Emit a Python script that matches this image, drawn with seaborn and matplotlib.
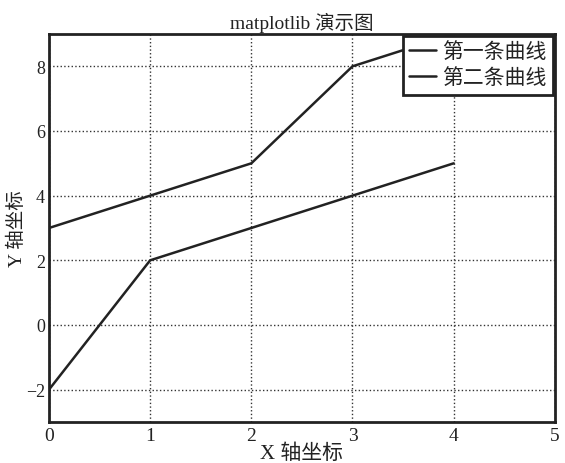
import numpy as np
import pandas as pd
import matplotlib
matplotlib.use("Agg")
import matplotlib.pyplot as plt
import seaborn as sns

# -------- Data --------
x_vals = [0, 1, 2, 3, 4]
line1 = [3, 4, 5, 8, 9]
line2 = [-2, 2, 3, 4, 5]
labels = ["第一条曲线", "第二条曲线"]

df = pd.DataFrame({
    "x": x_vals * 2,
    "y": line1 + line2,
    "curve": [labels[0]] * 5 + [labels[1]] * 5,
})

# -------- Style --------
sns.set_style("white")
plt.rcParams["font.family"] = ["Liberation Serif", "Noto Sans CJK SC", "DejaVu Sans"]
plt.rcParams["axes.unicode_minus"] = True

fig = plt.figure(figsize=(5.65, 4.64), dpi=100)
ax = fig.add_axes([0.0867, 0.0884, 0.8953, 0.8362])

sns.lineplot(data=df, x="x", y="y", hue="curve", palette=["#222222", "#222222"],
             linewidth=1.8, ax=ax, legend=True)

ax.set_xlim(0, 5)
ax.set_ylim(-3, 9)
ax.set_xticks([0, 1, 2, 3, 4, 5])
ax.set_yticks([-2, 0, 2, 4, 6, 8])
ax.set_yticklabels(["\u22122", "0", "2", "4", "6", "8"])
ax.grid(True, color="#333333", linestyle=":", linewidth=1.0)
ax.tick_params(direction="in", length=5, color="#222222", labelsize=14, labelcolor="#222222")
ax.tick_params(axis="y", labelsize=13, pad=3)
for sp in ax.spines.values():
    sp.set_linewidth(2.0)
    sp.set_color("#222222")

ax.set_title("matplotlib 演示图", fontsize=14, color="#222222", pad=4)
ax.set_xlabel("X 轴坐标", fontsize=15, color="#222222", labelpad=0)
ax.set_ylabel("Y 轴坐标", fontsize=14, color="#222222", labelpad=0)

leg = ax.legend(loc="upper right", fontsize=15, frameon=True, fancybox=False,
                borderpad=0.3, handlelength=1.3, handletextpad=0.3,
                labelspacing=0.3, borderaxespad=0.1)
leg.get_frame().set_edgecolor("#222222")
leg.get_frame().set_linewidth(2.0)
leg.get_frame().set_alpha(1.0)
for t in leg.get_texts():
    t.set_color("#222222")

fig.savefig("out.png", dpi=100)
